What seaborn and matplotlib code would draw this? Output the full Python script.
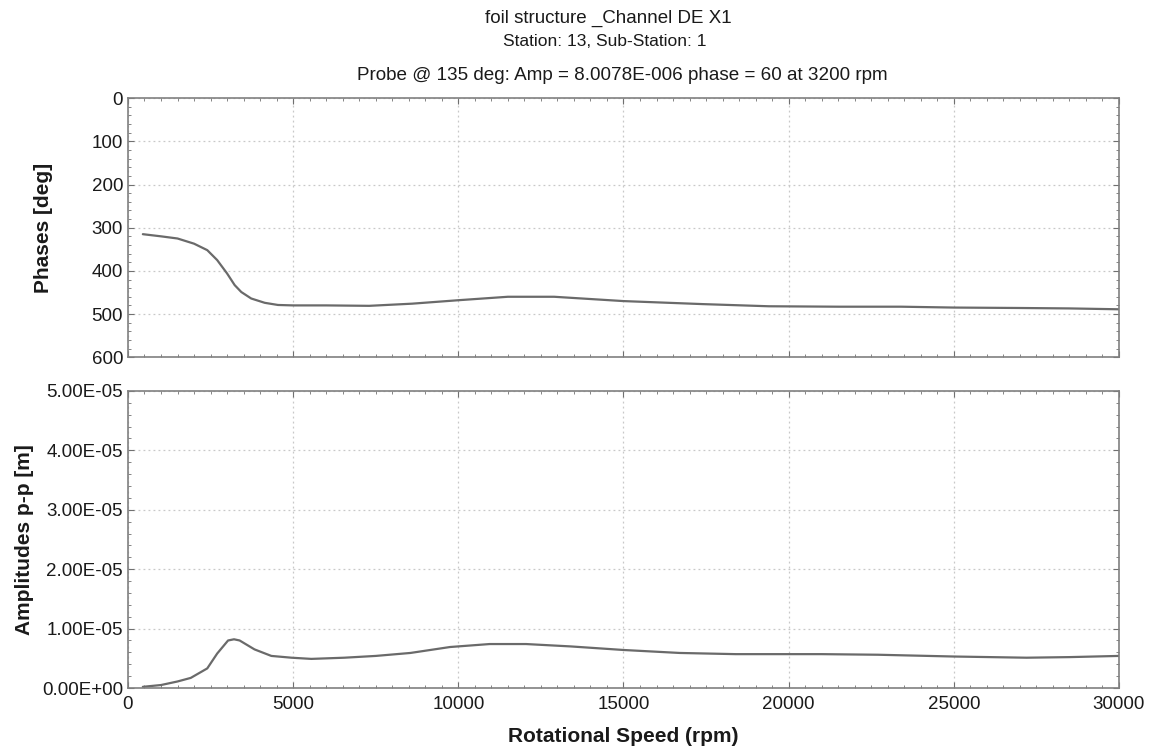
import matplotlib
matplotlib.use("Agg")
import matplotlib.pyplot as plt
from matplotlib.ticker import MultipleLocator, FormatStrFormatter
import seaborn as sns
import pandas as pd

# phase curve (deg) vs speed (rpm)
phase_rpm = [450, 1000, 1500, 2000, 2400, 2700, 3000, 3230, 3430, 3730, 4140, 4540,
             5000, 6000, 7300, 8600, 10000, 11500, 12900, 15000, 17400, 19400,
             21500, 23400, 25000, 27000, 28500, 30000]
phase_deg = [315, 320, 325, 337, 352, 375, 406, 433, 449, 464, 474, 479,
             480, 480, 481, 476, 468, 460, 460, 470, 477, 482,
             483, 483, 485, 486, 487, 489]

# amplitude p-p (m) vs speed (rpm)
amp_rpm = [450, 1000, 1500, 1900, 2400, 2700, 3030, 3210, 3380, 3830, 4340, 4950,
           5550, 6550, 7500, 8550, 9750, 10950, 12050, 13400, 15000, 16700,
           18400, 19400, 21000, 22700, 25000, 27200, 28500, 30000]
amp_m = [0.02e-5, 0.05e-5, 0.11e-5, 0.17e-5, 0.33e-5, 0.58e-5, 0.80e-5, 0.82e-5,
         0.80e-5, 0.65e-5, 0.54e-5, 0.51e-5, 0.49e-5, 0.51e-5, 0.54e-5, 0.59e-5,
         0.69e-5, 0.74e-5, 0.74e-5, 0.70e-5, 0.64e-5, 0.59e-5, 0.57e-5, 0.57e-5,
         0.57e-5, 0.56e-5, 0.53e-5, 0.51e-5, 0.52e-5, 0.54e-5]

df_ph = pd.DataFrame({"rpm": phase_rpm, "phase": phase_deg})
df_amp = pd.DataFrame({"rpm": amp_rpm, "amp": amp_m})

sns.set_style("ticks")
plt.rcParams["font.family"] = ["Liberation Sans", "DejaVu Sans"]

fig = plt.figure(figsize=(11.53, 7.52), dpi=100)
ax1 = fig.add_axes([0.111, 0.525, 0.8595, 0.3444])
ax2 = fig.add_axes([0.111, 0.0851, 0.8595, 0.395])

line_col = "#6a6a6a"
sns.lineplot(data=df_ph, x="rpm", y="phase", ax=ax1, color=line_col, linewidth=1.6)
sns.lineplot(data=df_amp, x="rpm", y="amp", ax=ax2, color=line_col, linewidth=1.6)

for ax in (ax1, ax2):
    ax.set_xlim(0, 30000)
    ax.xaxis.set_major_locator(MultipleLocator(5000))
    ax.xaxis.set_minor_locator(MultipleLocator(500))
    ax.grid(True, which="major", color="#c8c8c8", linestyle=(0, (1.5, 2.5)), linewidth=0.9)
    ax.tick_params(which="both", direction="in", top=True, right=True, colors="#707070",
                   labelcolor="#1a1a1a", labelsize=13.5)
    ax.tick_params(which="major", length=4)
    ax.tick_params(which="minor", length=2.5)
    for s in ax.spines.values():
        s.set_color("#808080")
        s.set_linewidth(1.2)

ax1.set_ylim(600, 0)
ax1.yaxis.set_major_locator(MultipleLocator(100))
ax1.yaxis.set_minor_locator(MultipleLocator(20))
ax1.tick_params(labelbottom=False)
ax1.set_xlabel("")
ax1.set_ylabel("Phases [deg]", fontsize=15, fontweight="bold", color="#1a1a1a", labelpad=28)

ax2.set_ylim(0, 5e-5)
ax2.yaxis.set_major_locator(MultipleLocator(1e-5))
ax2.yaxis.set_minor_locator(MultipleLocator(2e-6))
ax2.yaxis.set_major_formatter(FormatStrFormatter("%.2E"))
ax2.tick_params(axis="x", pad=6)
ax2.set_xlabel("Rotational Speed (rpm)", fontsize=15, fontweight="bold", color="#1a1a1a", labelpad=10)
ax2.set_ylabel("Amplitudes p-p [m]", fontsize=15, fontweight="bold", color="#1a1a1a", labelpad=6)

fig.text(608 / 1153, 1 - 18 / 752, "foil structure _Channel DE X1", ha="center", va="center",
         fontsize=13.5, color="#1a1a1a")
fig.text(605 / 1153, 1 - 42 / 752, "Station: 13, Sub-Station: 1", ha="center", va="center",
         fontsize=12.5, color="#1a1a1a")
fig.text(622 / 1153, 1 - 75 / 752, "Probe @ 135 deg: Amp = 8.0078E-006 phase = 60 at 3200 rpm",
         ha="center", va="center", fontsize=13.6, color="#1a1a1a")

fig.savefig("out.png", dpi=100)
